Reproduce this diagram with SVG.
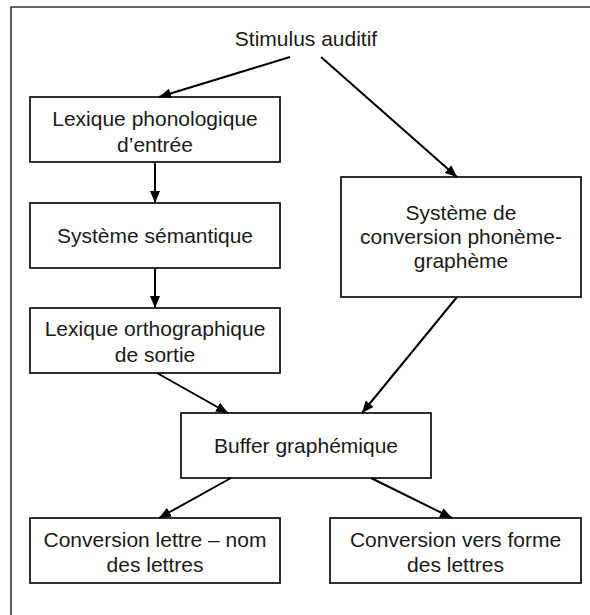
<svg xmlns="http://www.w3.org/2000/svg" width="590" height="615" viewBox="0 0 590 615">
<style>
.box{fill:#fff;stroke:#1a1a1a;stroke-width:1.8}
.lbl{font-family:"Liberation Sans",Arial,sans-serif;font-size:21px;fill:#1a1a1a;text-anchor:middle}
.con{stroke:#000;stroke-width:2;fill:none;marker-end:url(#ah)}
.frame{stroke:#333;stroke-width:1.6;fill:none}
</style>
<defs>
<marker id="ah" viewBox="0 0 12 10" refX="12" refY="5" markerWidth="12" markerHeight="10" markerUnits="userSpaceOnUse" orient="auto">
<path d="M0,0 L12,5 L0,10 z" fill="#000"/>
</marker>
</defs>
<rect width="590" height="615" fill="#fff"/>
<path class="frame" d="M11,615 L11,7 L590,7"/>
<g id="stimulus"><text class="lbl" x="306" y="46">Stimulus auditif</text></g>
<g id="lexique-phonologique"><rect class="box" x="30" y="97" width="250" height="65"/><text class="lbl" x="155" y="126">Lexique phonologique</text><text class="lbl" x="155" y="152">d’entrée</text></g>
<g id="systeme-semantique"><rect class="box" x="30" y="203" width="250" height="65"/><text class="lbl" x="155" y="243">Système sémantique</text></g>
<g id="lexique-orthographique"><rect class="box" x="30" y="308" width="250" height="65"/><text class="lbl" x="155" y="336">Lexique orthographique</text><text class="lbl" x="155" y="362">de sortie</text></g>
<g id="conversion-phoneme"><rect class="box" x="341" y="177" width="240" height="120"/><text class="lbl" x="461" y="220">Système de</text><text class="lbl" x="461" y="244">conversion phonème-</text><text class="lbl" x="461" y="268">graphème</text></g>
<g id="buffer"><rect class="box" x="181" y="413" width="250" height="65"/><text class="lbl" x="306" y="453">Buffer graphémique</text></g>
<g id="conversion-lettre"><rect class="box" x="30" y="518" width="250" height="65"/><text class="lbl" x="155" y="547">Conversion lettre – nom</text><text class="lbl" x="155" y="572">des lettres</text></g>
<g id="conversion-forme"><rect class="box" x="330" y="518" width="251" height="65"/><text class="lbl" x="455.5" y="547">Conversion vers forme</text><text class="lbl" x="455.5" y="572">des lettres</text></g>
<g id="connectors">
<path class="con" d="M290,57 L159,97"/>
<path class="con" d="M321,57 L457,177"/>
<path class="con" d="M155,162 L155,203"/>
<path class="con" d="M155,268 L155,308"/>
<path class="con" d="M157,373 L228,413"/>
<path class="con" d="M457,297 L362,413"/>
<path class="con" d="M231,478 L159,518"/>
<path class="con" d="M371,478 L452,518"/>
</g>
</svg>
